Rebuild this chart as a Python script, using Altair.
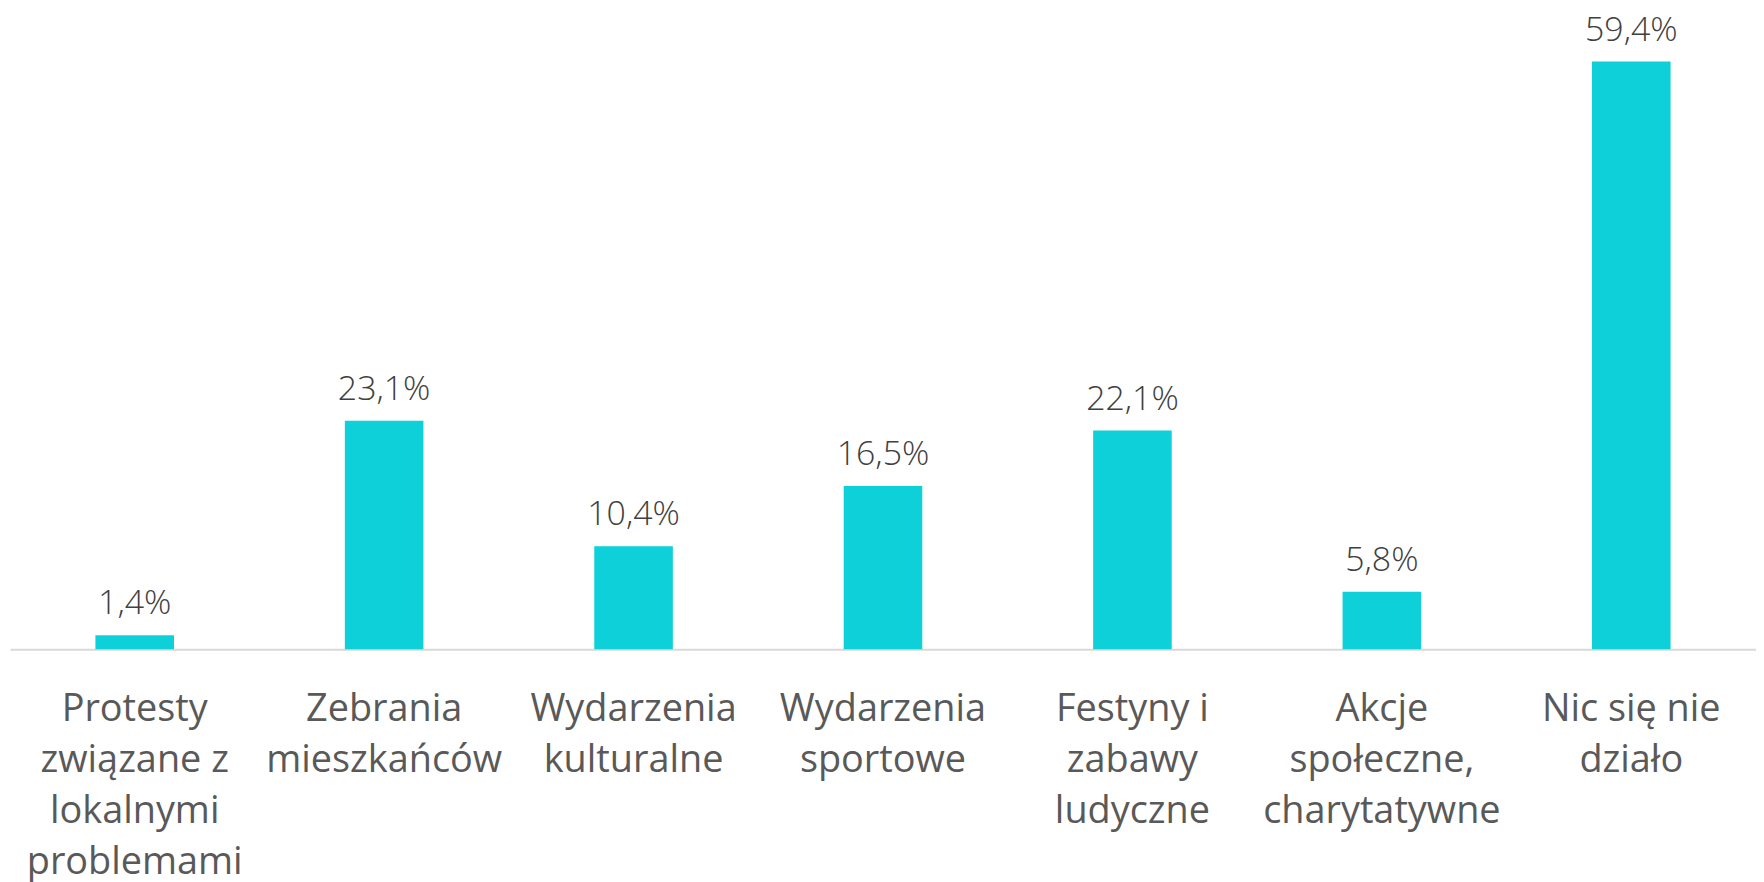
import altair as alt
import pandas as pd

categories = [
    "Protesty|związane z|lokalnymi|problemami",
    "Zebrania|mieszkańców",
    "Wydarzenia|kulturalne",
    "Wydarzenia|sportowe",
    "Festyny i|zabawy|ludyczne",
    "Akcje|społeczne,|charytatywne",
    "Nic się nie|działo",
]
values = [1.4, 23.1, 10.4, 16.5, 22.1, 5.8, 59.4]
value_labels = ["1,4%", "23,1%", "10,4%", "16,5%", "22,1%", "5,8%", "59,4%"]

df = pd.DataFrame({"cat": categories, "val": values, "lab": value_labels})

x = alt.X(
    "cat:N",
    sort=None,
    title=None,
    scale=alt.Scale(paddingInner=0.685, paddingOuter=0.3425),
    axis=alt.Axis(
        labelExpr="split(datum.label, '|')",
        labelAngle=0,
        labelFont="Open Sans",
        labelFontSize=38,
        labelColor="#595959",
        labelLineHeight=51,
        labelPadding=42,
        labelLimit=400,
        ticks=False,
        domainColor="#d9d9d9",
        domainWidth=2,
        labelBaseline="top",
    ),
)
y = alt.Y("val:Q", title=None, scale=alt.Scale(domain=[0, 60], nice=False), axis=None)

bars = alt.Chart(df).mark_bar(color="#0dd0d8").encode(x=x, y=y)
text = alt.Chart(df).mark_text(
    baseline="alphabetic", dy=-21, font="Open Sans", fontSize=34, fontWeight=300, color="#404040"
).encode(x=x, y=y, text="lab:N")

chart = (
    (bars + text)
    .properties(
        width=1753,
        height=596,
        background="white",
        autosize=alt.AutoSizeParams(type="none"),
        padding={"left": 2, "top": 46, "right": 0, "bottom": 232},
    )
    .configure_view(strokeWidth=0, stroke="transparent")
)

chart.save("out.html", embed_options={"renderer": "svg", "actions": False})
